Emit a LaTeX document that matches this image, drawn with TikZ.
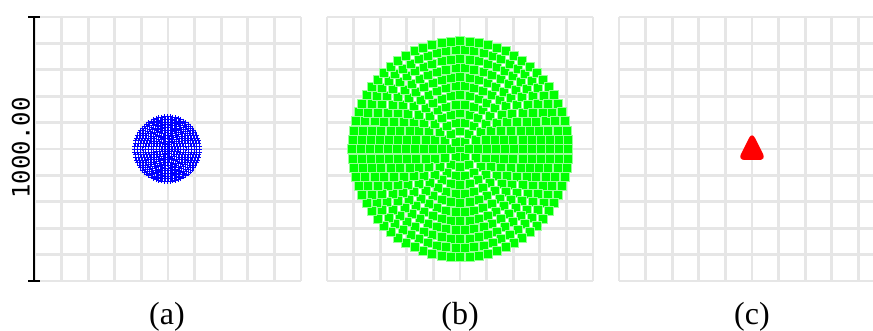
\documentclass[tikz,border=0pt]{standalone}
\usepackage{fontspec}
\setmainfont{Liberation Serif}
\newfontfamily\barfont{DejaVu Sans Mono}
\definecolor{gridgray}{RGB}{230,230,230}
\definecolor{dotblue}{RGB}{0,0,255}
\definecolor{dotgreen}{RGB}{0,255,0}
\definecolor{dotedge}{RGB}{150,255,150}
\definecolor{dotred}{RGB}{255,0,0}

\begin{document}
\begin{tikzpicture}[x=1pt, y=-1pt,
    gridline/.style={draw=gridgray, line width=2.8pt},
    bar/.style={draw=black, line width=1.6pt},
    caption/.style={font=\fontsize{32}{34}\selectfont, anchor=base, inner sep=0pt},
    plusmark/.style={draw=dotblue, line width=0.6pt},
    squaremark/.style={fill=dotgreen, draw=dotedge, line width=0.4pt}
  ]
  \clip (0,0) rectangle (873,331);
  % grids of the three panels
  \foreach \px in {35,327,619} {
    \foreach \i in {0,...,10}
      \draw[gridline] (\px+\i*26.6,17) -- (\px+\i*26.6,281);
    \foreach \j in {0,...,10}
      \draw[gridline] (\px,17+\j*26.4) -- (\px+266,17+\j*26.4);
  }
  % (a) small disk of plus marks
  \coordinate (ca) at (167,149);
  \draw[plusmark] (ca) +(-2.3,0) -- +(2.3,0) (ca) +(0,-2.3) -- +(0,2.3);
  \foreach \k in {1,...,12} {
    \pgfmathsetmacro\stp{60/\k}
    \foreach \m in {1,...,\numexpr6*\k\relax} {
      \path (ca) ++({2.7*\k*cos(\stp*\m)},{2.7*\k*sin(\stp*\m)}) coordinate (p);
      \draw[plusmark] (p) +(-2.3,0) -- +(2.3,0) (p) +(0,-2.3) -- +(0,2.3);
    }
  }
  % (b) large disk of squares
  \coordinate (cb) at (460,149);
  \filldraw[squaremark] (cb) +(-4.5,-4.5) rectangle +(4.5,4.5);
  \foreach \k in {1,...,12} {
    \pgfmathsetmacro\stp{60/\k}
    \foreach \m in {1,...,\numexpr6*\k\relax} {
      \path (cb) ++({9*\k*cos(\stp*\m)},{9*\k*sin(\stp*\m)}) coordinate (p);
      \filldraw[squaremark] (p) +(-4.5,-4.5) rectangle +(4.5,4.5);
    }
  }
  % (c) tiny blob
  \coordinate (cc) at (752,148);
  \fill[dotred, rounded corners=6.5pt] (752,132) -- (766,160) -- (738,160) -- cycle;
  % scale bar
  \coordinate (bartop) at (34,17);
  \coordinate (barbot) at (34,281);
  \draw[bar] (bartop) -- (barbot);
  \draw[bar] (bartop) +(-6,0) -- +(6,0);
  \draw[bar] (barbot) +(-6,0) -- +(6,0);
  \node[rotate=90, font=\barfont\fontsize{24}{24}\selectfont, inner sep=0pt] (barlabel) at (21,148) {1000.00};
  % captions
  \node[caption] (capa) at (167,324) {(a)};
  \node[caption] (capb) at (460,324) {(b)};
  \node[caption] (capc) at (752,324) {(c)};
\end{tikzpicture}
\end{document}
